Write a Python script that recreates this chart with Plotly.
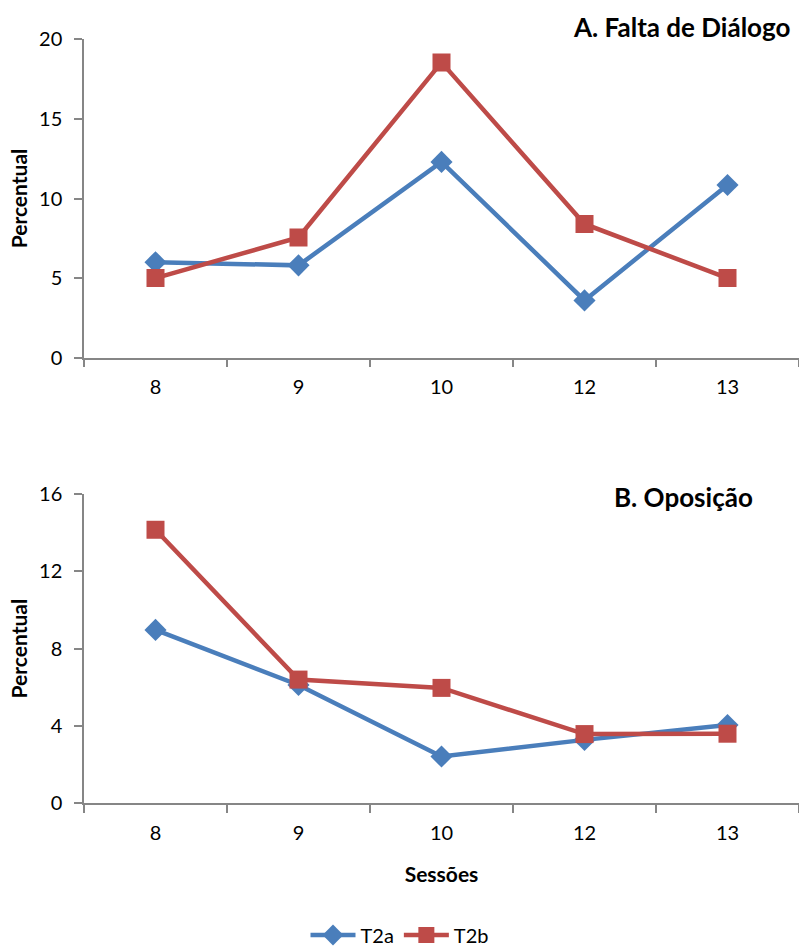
import plotly.graph_objects as go

sessions = ["8", "9", "10", "12", "13"]
a_t2a = [6.0, 5.8, 12.3, 3.6, 10.85]
a_t2b = [5.0, 7.55, 18.55, 8.4, 5.0]
b_t2a = [8.97, 6.12, 2.42, 3.28, 4.05]
b_t2b = [14.15, 6.4, 5.97, 3.58, 3.6]
yticks_a = [0, 5, 10, 15, 20]
yticks_b = [0, 4, 8, 12, 16]

BLUE = "#4A7EBB"
RED = "#BE4B48"
FONT = "Lato, 'Open Sans', sans-serif"
AX = "#868686"

fig = go.Figure()

def add(y, name, color, symbol, size, xa, ya, show):
    fig.add_trace(go.Scatter(
        x=sessions, y=y, name=name, mode="lines+markers",
        line=dict(color=color, width=4.5),
        marker=dict(symbol=symbol, size=size, color=color),
        xaxis=xa, yaxis=ya, showlegend=show, legendgroup=name))

add(a_t2a, "T2a", BLUE, "diamond", 17, "x", "y", True)
add(a_t2b, "T2b", RED, "square", 18, "x", "y", True)
add(b_t2a, "T2a", BLUE, "diamond", 17, "x2", "y2", False)
add(b_t2b, "T2b", RED, "square", 18, "x2", "y2", False)

xcommon = dict(type="category", showgrid=False, showline=True, linecolor=AX, linewidth=1.5,
               ticks="outside", tickson="boundaries", ticklen=8, tickcolor=AX, tickwidth=1.5,
               tickfont=dict(family=FONT, size=20, color="#000"), range=[-0.5, 4.5],
               ticklabelstandoff=11, zeroline=False, automargin=False)
ycommon = dict(showgrid=False, showline=True, linecolor=AX, linewidth=1.5,
               ticks="outside", ticklen=8, tickcolor=AX, tickwidth=1.5,
               tickfont=dict(family=FONT, size=20, color="#000"), zeroline=False,
               ticklabelstandoff=8, automargin=False)

ytitle = dict(text="<b>Percentual</b>", font=dict(family=FONT, size=21, color="#000"), standoff=6)

fig.update_layout(
    width=799, height=946,
    margin=dict(l=84, r=0, t=0, b=0, autoexpand=False),
    plot_bgcolor="white", paper_bgcolor="white",
    xaxis=dict(domain=[0, 1], anchor="y", **xcommon),
    yaxis=dict(domain=[1 - 357.7/946, 1 - 39.3/946], anchor="x", range=[0, 20], tickvals=yticks_a,
               title=ytitle, **ycommon),
    xaxis2=dict(domain=[0, 1], anchor="y2",
                title=dict(text="<b>Sessões</b>", font=dict(family=FONT, size=21, color="#000"), standoff=24),
                **xcommon),
    yaxis2=dict(domain=[1 - 803.3/946, 1 - 494/946], anchor="x2", range=[0, 16], tickvals=yticks_b,
                title=ytitle, **ycommon),
    legend=dict(orientation="h", x=0.5, xanchor="center", xref="container",
                y=1 - 935/946, yanchor="middle", yref="container",
                font=dict(family=FONT, size=20, color="#000"),
                itemwidth=45, traceorder="normal"),
    annotations=[
        dict(text="<b>A. Falta de Diálogo</b>", xref="paper", yref="paper", x=(792 - 84) / 715, y=1 - 27/946,
             xanchor="right", yanchor="middle", showarrow=False,
             font=dict(family=FONT, size=26, color="#000")),
        dict(text="<b>B. Oposição</b>", xref="paper", yref="paper", x=(755 - 84) / 715, y=1 - 497/946,
             xanchor="right", yanchor="middle", showarrow=False,
             font=dict(family=FONT, size=26, color="#000")),
    ],
)

fig.write_html("out.html")
